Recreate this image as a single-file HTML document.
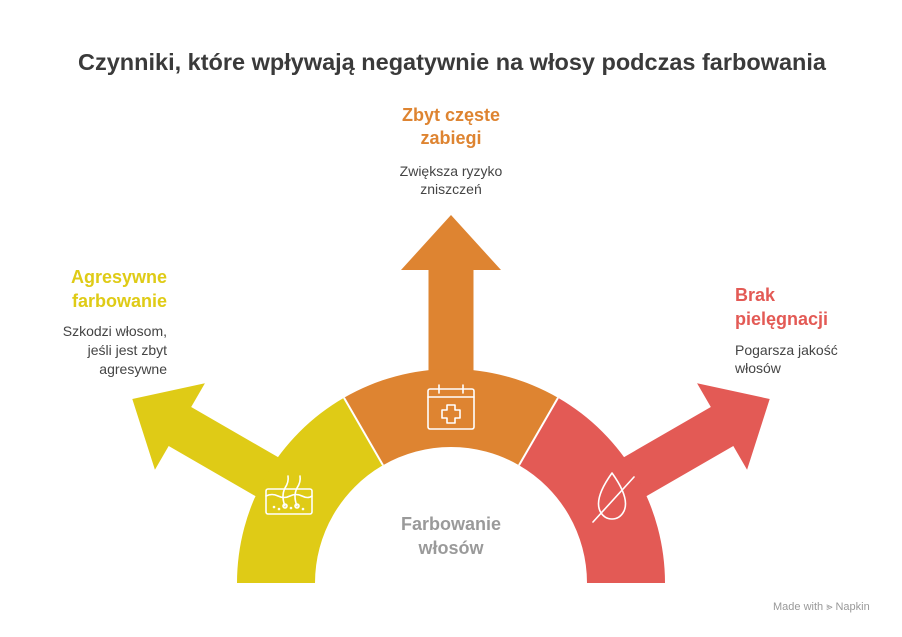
<!DOCTYPE html>
<html><head><meta charset="utf-8"><style>
html,body{margin:0;padding:0;background:#fff;}
body{width:902px;height:632px;overflow:hidden;font-family:"Liberation Sans",sans-serif;}
</style></head><body>
<svg width="902" height="632" viewBox="0 0 902 632" xmlns="http://www.w3.org/2000/svg" font-family="Liberation Sans, sans-serif">
<rect width="902" height="632" fill="#fff"/>
<text x="452" y="70" text-anchor="middle" font-size="23.5" font-weight="bold" fill="#3a3a3a" textLength="748" lengthAdjust="spacingAndGlyphs">Czynniki, które wpływają negatywnie na włosy podczas farbowania</text>

<g transform="translate(451,583)">
 <polygon transform="rotate(-60)" fill="#DFCB16" points="-22.5,-150 -22.5,-313 -50,-313 0,-368 50,-313 22.5,-313 22.5,-150"/>
 <polygon fill="#DE8431" points="-22.5,-150 -22.5,-313 -50,-313 0,-368 50,-313 22.5,-313 22.5,-150"/>
 <polygon transform="rotate(60)" fill="#E35A55" points="-22.5,-150 -22.5,-313 -50,-313 0,-368 50,-313 22.5,-313 22.5,-150"/>
</g>
<path d="M237,583 A214,214 0 0 1 344,397.7 L383,465.2 A136,136 0 0 0 315,583 Z" fill="#DFCB16"/>
<path d="M344,397.7 A214,214 0 0 1 558,397.7 L519,465.2 A136,136 0 0 0 383,465.2 Z" fill="#DE8431"/>
<path d="M558,397.7 A214,214 0 0 1 665,583 L587,583 A136,136 0 0 0 519,465.2 Z" fill="#E35A55"/>
<line x1="344" y1="397.7" x2="383" y2="465.2" stroke="#fff" stroke-width="2"/>
<line x1="558" y1="397.7" x2="519" y2="465.2" stroke="#fff" stroke-width="2"/>

<g fill="none" stroke="#fff" stroke-width="1.6" stroke-linecap="round" stroke-linejoin="round">
 <rect x="428" y="389" width="46" height="40" rx="2"/>
 <line x1="428" y1="397" x2="474" y2="397"/>
 <line x1="439" y1="385" x2="439" y2="393"/><line x1="463" y1="385" x2="463" y2="393"/>
 <path d="M447,405 h8 v5 h5 v8 h-5 v5 h-8 v-5 h-5 v-8 h5 z"/>
 <rect x="266" y="489" width="46" height="25" rx="2"/>
 <path d="M266,496 q6,-3 12,0 t12,0 t12,0 t10,0"/>
 <path d="M285,506 q-4,-10 0,-18 q4,-6 3,-12"/><path d="M297,506 q-4,-10 0,-18 q4,-6 3,-12"/>
 <circle cx="285" cy="506" r="2"/><circle cx="297" cy="506" r="2"/>
 <circle cx="274" cy="507" r="0.5"/><circle cx="279" cy="509" r="0.5"/><circle cx="303" cy="509" r="0.5"/><circle cx="291" cy="508" r="0.5"/>
 <path d="M612,473 q-18,25 -12,38 q4,8 12,8 q8,0 12,-8 q6,-13 -12,-38 z"/>
 <line x1="593" y1="522" x2="634" y2="477"/>
</g>

<g font-weight="bold" font-size="18">
 <text x="451" y="121" text-anchor="middle" fill="#DE8431">Zbyt częste</text>
 <text x="451" y="144" text-anchor="middle" fill="#DE8431">zabiegi</text>
 <text x="167" y="283" text-anchor="end" fill="#DFCB16">Agresywne</text>
 <text x="167" y="307" text-anchor="end" fill="#DFCB16">farbowanie</text>
 <text x="735" y="301" fill="#E35A55">Brak</text>
 <text x="735" y="325" fill="#E35A55">pielęgnacji</text>
 <text x="451" y="530" text-anchor="middle" fill="#9a9a9a">Farbowanie</text>
 <text x="451" y="554" text-anchor="middle" fill="#9a9a9a">włosów</text>
</g>
<g font-size="14" fill="#444">
 <text x="451" y="176" text-anchor="middle">Zwiększa ryzyko</text>
 <text x="451" y="194" text-anchor="middle">zniszczeń</text>
 <text x="167" y="336" text-anchor="end">Szkodzi włosom,</text>
 <text x="167" y="355" text-anchor="end">jeśli jest zbyt</text>
 <text x="167" y="374" text-anchor="end">agresywne</text>
 <text x="735" y="355">Pogarsza jakość</text>
 <text x="735" y="373">włosów</text>
</g>
<text x="773" y="610" font-size="11" fill="#999">Made with ⪢ Napkin</text>
</svg>
</body></html>
